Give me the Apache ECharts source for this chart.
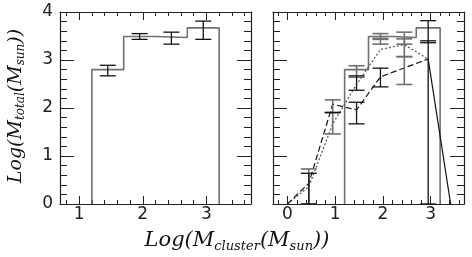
<!DOCTYPE html>
<html><head><meta charset="utf-8">
<script src="https://cdn.jsdelivr.net/npm/echarts@6/dist/echarts.min.js"></script>
<style>html,body{margin:0;padding:0;background:#fff}#c{width:472px;height:257px}</style>
</head><body><div id="c"></div>
<script>
// ---- data ----
const binEdges = [1.2, 1.7, 2.2, 2.7, 3.2];
const histValues = [2.80, 3.49, 3.47, 3.67];

const errLeftX = [1.45, 1.95, 2.45, 2.95];
const errLeftLow = [2.67, 3.43, 3.33, 3.43];
const errLeftHigh = [2.89, 3.55, 3.58, 3.81];

const dashedX = [0, 0.45, 0.95, 1.45, 1.95, 2.95];
const dashedY = [0, 0.43, 2.08, 1.96, 2.65, 3.02];
const dottedX = [0, 0.45, 0.95, 1.45, 1.95, 2.45, 2.95];
const dottedY = [0, 0.36, 1.67, 2.49, 3.22, 3.32, 3.02];
const dropX = [2.95, 3.42];
const dropY = [3.02, 0];

const errGrayX = [0.45, 0.95, 1.45, 1.95, 1.95, 2.45, 2.45, 2.45];
const errGrayLow = [0, 1.46, 2.64, 3.43, 3.33, 3.33, 3.07, 2.49];
const errGrayHigh = [0.73, 2.17, 2.88, 3.55, 3.45, 3.58, 3.44, 3.07];
const errBlackX = [0.45, 0.95, 1.45, 1.45, 1.95, 2.95, 2.95];
const errBlackLow = [0, 1.90, 2.37, 1.67, 2.44, 0, 3.36];
const errBlackHigh = [0.64, 1.91, 2.67, 2.12, 2.83, 3.82, 3.40];

const xLabelsLeft = [1, 2, 3];
const xMinorLeft = [0.8, 1.0, 1.2, 1.4, 1.6, 1.8, 2.0, 2.2, 2.4, 2.6, 2.8, 3.0, 3.2, 3.4, 3.6];
const xLabelsRight = [0, 1, 2, 3];
const xMinorRight = [-0.2, 0, 0.2, 0.4, 0.6, 0.8, 1.0, 1.2, 1.4, 1.6, 1.8, 2.0, 2.2, 2.4, 2.6, 2.8, 3.0, 3.2, 3.4, 3.6];
const yLabels = [0, 1, 2, 3, 4];
const yMinor = [0, 0.2, 0.4, 0.6, 0.8, 1.0, 1.2, 1.4, 1.6, 1.8, 2.0, 2.2, 2.4, 2.6, 2.8, 3.0, 3.2, 3.4, 3.6, 3.8, 4.0];

// ---- helpers ----
function stepPoints(edges, vals) {
  const pts = [[edges[0], 0]];
  for (let i = 0; i < vals.length; i++) {
    pts.push([edges[i], vals[i]]);
    pts.push([edges[i + 1], vals[i]]);
  }
  pts.push([edges[edges.length - 1], 0]);
  return pts;
}
function zip(a, b) { return a.map((v, i) => [v, b[i]]); }
function zip3(a, b, c) { return a.map((v, i) => [v, b[i], c[i]]); }

const AX = '#222';
const labelFont = { fontFamily: 'DejaVu Sans', fontSize: 17, color: '#222' };

function axis(dim, grid, min, max, pos, ticks, len, line, labels) {
  return {
    type: 'value', gridIndex: grid, min: min, max: max, position: pos,
    axisLine: { show: line, onZero: false, lineStyle: { color: AX, width: 1.2 } },
    axisTick: { show: true, inside: true, length: len, customValues: ticks, lineStyle: { color: AX, width: 1 } },
    axisLabel: Object.assign({ show: !!labels, customValues: labels || [], margin: dim === 'x' ? 2 : 7 }, labelFont),
    splitLine: { show: false }, minorTick: { show: false }
  };
}

const xAxes = [], yAxes = [];
[[0, 0.7, 3.7, xLabelsLeft, xMinorLeft], [1, -0.3, 3.7, xLabelsRight, xMinorRight]].forEach(g => {
  const [gi, mn, mx, maj, mnr] = g;
  xAxes.push(axis('x', gi, mn, mx, 'bottom', maj, 8, true, maj));
  xAxes.push(axis('x', gi, mn, mx, 'bottom', mnr, 4, false, null));
  xAxes.push(axis('x', gi, mn, mx, 'top', maj, 8, true, null));
  xAxes.push(axis('x', gi, mn, mx, 'top', mnr, 4, false, null));
  yAxes.push(axis('y', gi, 0, 4, 'left', yLabels, 14, true, gi === 0 ? yLabels : null));
  yAxes.push(axis('y', gi, 0, 4, 'left', yMinor, 7, false, null));
  yAxes.push(axis('y', gi, 0, 4, 'right', yLabels, 14, true, null));
  yAxes.push(axis('y', gi, 0, 4, 'right', yMinor, 7, false, null));
});

function errSeries(xi, yi, data, color, width) {
  return {
    type: 'custom', xAxisIndex: xi, yAxisIndex: yi, data: data, silent: true, z: 5,
    renderItem: function (params, api) {
      const x = api.value(0), lo = api.value(1), hi = api.value(2);
      const a = api.coord([x, lo]), b = api.coord([x, hi]);
      const w = 8;
      const st = { stroke: color, lineWidth: width };
      return {
        type: 'group', children: [
          { type: 'line', shape: { x1: a[0], y1: a[1], x2: b[0], y2: b[1] }, style: st },
          { type: 'line', shape: { x1: a[0] - w, y1: a[1], x2: a[0] + w, y2: a[1] }, style: st },
          { type: 'line', shape: { x1: b[0] - w, y1: b[1], x2: b[0] + w, y2: b[1] }, style: st }
        ]
      };
    }
  };
}
function lineSeries(xi, yi, data, color, width, type, z) {
  return {
    type: 'line', xAxisIndex: xi, yAxisIndex: yi, data: data, symbol: 'none', silent: true, z: z || 3,
    lineStyle: { color: color, width: width, type: type }
  };
}

const GRAY = '#707070';
const option = {
  animation: false,
  backgroundColor: '#fff',
  grid: [
    { left: 60, top: 12, width: 191, height: 192 },
    { left: 273, top: 12, width: 191, height: 192 }
  ],
  xAxis: xAxes,
  yAxis: yAxes,
  series: [
    lineSeries(0, 0, stepPoints(binEdges, histValues), GRAY, 1.6, 'solid'),
    errSeries(0, 0, zip3(errLeftX, errLeftLow, errLeftHigh), '#111', 1.3),
    lineSeries(4, 4, stepPoints(binEdges, histValues), GRAY, 1.6, 'solid'),
    lineSeries(4, 4, zip(dottedX, dottedY), '#555', 1.2, [2, 2]),
    lineSeries(4, 4, zip(dashedX, dashedY), '#111', 1.2, [6, 3]),
    lineSeries(4, 4, zip(dropX, dropY), '#111', 1.2, 'solid'),
    errSeries(4, 4, zip3(errGrayX, errGrayLow, errGrayHigh), GRAY, 1.6),
    errSeries(4, 4, zip3(errBlackX, errBlackLow, errBlackHigh), '#111', 1.3)
  ],
  graphic: [
    {
      type: 'text', x: 237, y: 241,
      style: {
        text: '{m|Log(M}{s|cluster}{m|(M}{s|sun}{m|))}',
        align: 'center', verticalAlign: 'middle',
        rich: {
          m: { fontFamily: 'DejaVu Serif', fontStyle: 'italic', fontSize: 21, lineHeight: 24, fill: '#111' },
          s: { fontFamily: 'DejaVu Serif', fontStyle: 'italic', fontSize: 13, lineHeight: 10, verticalAlign: 'bottom', fill: '#111' }
        }
      }
    },
    {
      type: 'text', x: 16, y: 106, rotation: Math.PI / 2,
      style: {
        text: '{m|Log(M}{s|total}{m|(M}{s|sun}{m|))}',
        align: 'center', verticalAlign: 'middle',
        rich: {
          m: { fontFamily: 'DejaVu Serif', fontStyle: 'italic', fontSize: 19, lineHeight: 22, fill: '#111' },
          s: { fontFamily: 'DejaVu Serif', fontStyle: 'italic', fontSize: 12, lineHeight: 9, verticalAlign: 'bottom', fill: '#111' }
        }
      }
    }
  ]
};
const chart = echarts.init(document.getElementById('c'), null, { renderer: 'canvas' });
chart.setOption(option);
</script></body></html>
